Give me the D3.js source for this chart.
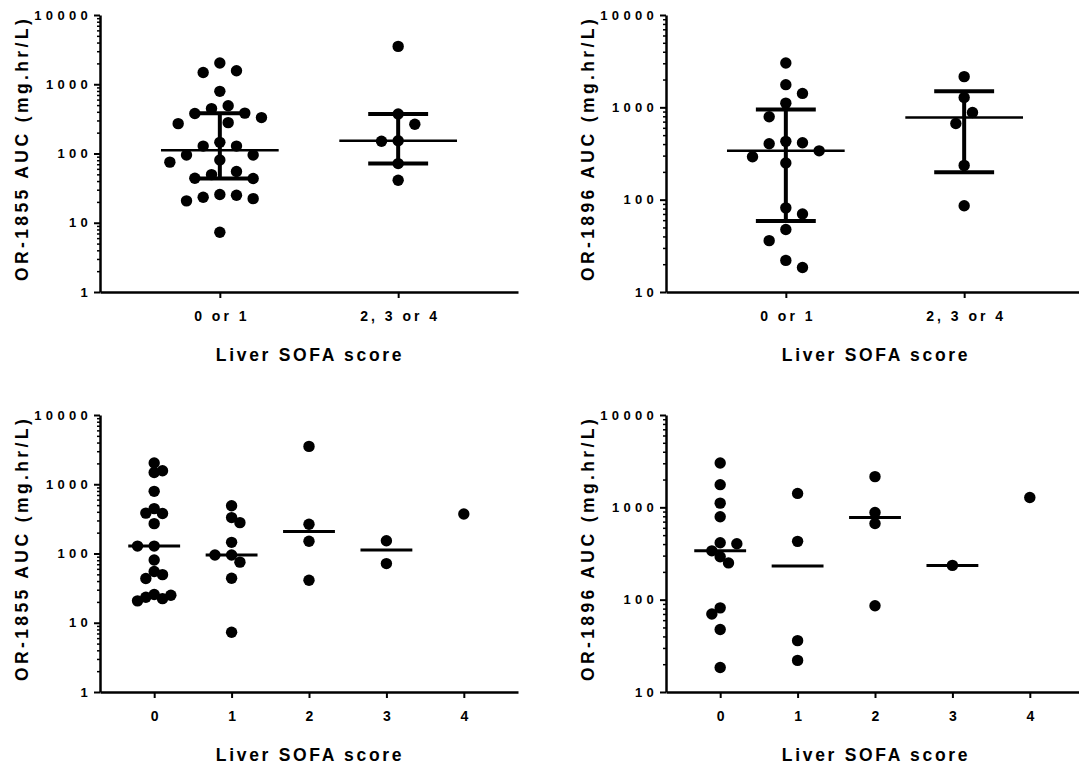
<!DOCTYPE html>
<html>
<head>
<meta charset="utf-8">
<script src="https://cdn.jsdelivr.net/npm/d3@7"></script>
<style>
    body { margin: 0; background: #fff; }
    svg text { font-family: "Liberation Sans", Arial, sans-serif; font-weight: bold; fill: #000; }
</style>
</head>
<body>
<div id="chart"></div>
<script>
// categories
const sofaGroups = ["0 or 1", "2, 3 or 4"];
const sofaScores = ["0", "1", "2", "3", "4"];

// OR-1855 AUC (mg.hr/L) per patient, by liver SOFA score
const or1855Score0 = [2030, 1570, 1480, 790, 445, 378, 383, 270, 128, 128, 80.5, 49.5, 55, 43.5, 25.6, 23.3, 20.7, 22.3, 25.0];
const or1855Score1 = [490, 330, 279, 145, 95, 95, 75, 44, 7.3];
const or1855Score2 = [3520, 265, 150, 41];
const or1855Score3 = [153, 71.5];
const or1855Score4 = [372];

// OR-1896 AUC (mg.hr/L) per patient, by liver SOFA score
const or1896Score0 = [3020, 1760, 1110, 790, 403, 414, 338, 292, 250, 81.5, 70, 47.5, 18.4];
const or1896Score1 = [1415, 428, 36, 22];
const or1896Score2 = [2150, 880, 668, 86];
const or1896Score3 = [235];
const or1896Score4 = [1280];

// y tick labels
const or1855Ticks = [1, 10, 100, 1000, 10000];
const or1896Ticks = [10, 100, 1000, 10000];

// scores where a median bar is shown in the per-score plots
const medianShown = ["0", "1", "2", "3"];

// quantile the GraphPad way: position p*(n+1)
function gpQuantile(values, p) {
    let s = values.slice().sort((a, b) => a - b);
    let n = s.length;
    let pos = p * (n + 1);
    if (pos <= 1) return s[0];
    if (pos >= n) return s[n - 1];
    let lo = Math.floor(pos);
    return s[lo - 1] + (pos - lo) * (s[lo] - s[lo - 1]);
}

// simple beeswarm: greedy placement on a grid of horizontal slots
function swarmOffsets(values, y, step, minDist) {
    let order = values.map((v, i) => i).sort((a, b) => values[b] - values[a]);
    let placed = [];
    let offsets = new Array(values.length).fill(0);
    let balance = 0;
    order.forEach(i => {
        let yi = y(values[i]);
        for (let k = 0; k < 60; k++) {
            let cands = k === 0 ? [0] : (balance > 0 ? [-k, k] : [k, -k]);
            let hit = cands.find(c => placed.every(p => Math.hypot(p.x - c * step, p.y - yi) >= minDist));
            if (hit !== undefined) {
                offsets[i] = hit * step;
                placed.push({x: hit * step, y: yi});
                balance += Math.sign(hit);
                break;
            }
        }
    });
    return offsets;
}

const W = 1079, H = 770;
const svg = d3.select("#chart").append("svg")
    .attr("width", W)
    .attr("height", H);

function drawPanel(cfg) {
    let vis = {};
    vis.left = cfg.left;
    vis.right = cfg.left + 418;
    vis.top = cfg.top;
    vis.bottom = cfg.top + 277;

    vis.x = d3.scalePoint()
        .domain(cfg.groups)
        .range([vis.left, vis.right])
        .padding(cfg.pad);
    vis.y = d3.scaleLog()
        .domain([cfg.ticks[0], cfg.ticks[cfg.ticks.length - 1]])
        .range([vis.bottom, vis.top]);

    let g = svg.append("g");

    // minor log ticks
    let minor = [];
    for (let d = cfg.ticks[0]; d < cfg.ticks[cfg.ticks.length - 1]; d *= 10) {
        for (let m = 2; m <= 9; m++) minor.push(d * m);
    }
    let minorG = g.append("g")
        .attr("transform", "translate(" + vis.left + ",0)")
        .call(d3.axisLeft(vis.y).tickValues(minor).tickSize(3).tickSizeOuter(0).tickFormat(""));
    minorG.select(".domain").remove();
    minorG.selectAll("line").attr("stroke-width", 1.5);

    // y axis
    let yG = g.append("g")
        .attr("transform", "translate(" + vis.left + ",0)")
        .call(d3.axisLeft(vis.y).tickValues(cfg.ticks).tickFormat(d3.format("d"))
            .tickSize(6).tickSizeOuter(0).tickPadding(2));
    yG.select(".domain").attr("stroke-width", 2.5);
    yG.selectAll("line").attr("stroke-width", 2);
    yG.selectAll("text")
        .attr("font-size", 13)
        .style("letter-spacing", "4.3px")
        .attr("font-family", null);

    // x axis
    let xG = g.append("g")
        .attr("transform", "translate(0," + vis.bottom + ")")
        .call(d3.axisBottom(vis.x).tickSize(6).tickSizeOuter(0).tickPadding(13));
    xG.select(".domain").attr("stroke-width", 2.5);
    xG.selectAll("line").attr("stroke-width", 2);
    xG.selectAll("text")
        .attr("font-size", 14)
        .attr("dx", 1.5)
        .style("letter-spacing", "3px")
        .attr("font-family", null);

    // axis titles
    g.append("text")
        .attr("transform", "translate(" + (vis.left - 72.5) + "," + ((vis.top + vis.bottom) / 2 - 5) + ") rotate(-90)")
        .attr("text-anchor", "middle")
        .attr("font-size", 17.5)
        .style("letter-spacing", "3.4px")
        .text(cfg.yTitle);
    g.append("text")
        .attr("x", (vis.left + vis.right) / 2 + 1)
        .attr("y", vis.bottom + 69)
        .attr("text-anchor", "middle")
        .attr("font-size", 17.5)
        .style("letter-spacing", "2.7px")
        .text("Liver SOFA score");

    let step = vis.x.step();

    // summary bars
    cfg.groups.forEach((grp, gi) => {
        let vals = cfg.values[gi];
        let cx = vis.x(grp);
        let med = gpQuantile(vals, 0.5);
        if (cfg.iqr) {
            let q1 = gpQuantile(vals, 0.25), q3 = gpQuantile(vals, 0.75);
            g.append("line")
                .attr("x1", cx).attr("x2", cx)
                .attr("y1", vis.y(q1)).attr("y2", vis.y(q3))
                .attr("stroke", "#000").attr("stroke-width", 4);
            [q1, q3].forEach(q => {
                g.append("line")
                    .attr("x1", cx - step * 0.168).attr("x2", cx + step * 0.168)
                    .attr("y1", vis.y(q)).attr("y2", vis.y(q))
                    .attr("stroke", "#000").attr("stroke-width", 4);
            });
            g.append("line")
                .attr("x1", cx - step * 0.33).attr("x2", cx + step * 0.33)
                .attr("y1", vis.y(med)).attr("y2", vis.y(med))
                .attr("stroke", "#000").attr("stroke-width", 2.5);
        } else if (medianShown.includes(grp)) {
            g.append("line")
                .attr("x1", cx - step * 0.335).attr("x2", cx + step * 0.335)
                .attr("y1", vis.y(med)).attr("y2", vis.y(med))
                .attr("stroke", "#000").attr("stroke-width", 3);
        }
    });

    // dots
    cfg.groups.forEach((grp, gi) => {
        let vals = cfg.values[gi];
        let offs = swarmOffsets(vals, vis.y, 8.33, cfg.minDist);
        g.append("g").selectAll("circle")
            .data(vals)
            .enter().append("circle")
            .attr("cx", (d, i) => vis.x(grp) + offs[i])
            .attr("cy", d => vis.y(d))
            .attr("r", 5.7)
            .attr("fill", "#000");
    });
}

drawPanel({
    left: 100, top: 15, pad: 0.672, groups: sofaGroups, ticks: or1855Ticks, iqr: true, minDist: 16.5,
    yTitle: "OR-1855 AUC (mg.hr/L)",
    values: [or1855Score0.concat(or1855Score1), or1855Score2.concat(or1855Score3, or1855Score4)]
});
drawPanel({
    left: 666, top: 15, pad: 0.672, groups: sofaGroups, ticks: or1896Ticks, iqr: true, minDist: 16.5,
    yTitle: "OR-1896 AUC (mg.hr/L)",
    values: [or1896Score0.concat(or1896Score1), or1896Score2.concat(or1896Score3, or1896Score4)]
});
drawPanel({
    left: 100, top: 415, pad: 0.7, groups: sofaScores, ticks: or1855Ticks, iqr: false, minDist: 8.5,
    yTitle: "OR-1855 AUC (mg.hr/L)",
    values: [or1855Score0, or1855Score1, or1855Score2, or1855Score3, or1855Score4]
});
drawPanel({
    left: 666, top: 415, pad: 0.7, groups: sofaScores, ticks: or1896Ticks, iqr: false, minDist: 8.5,
    yTitle: "OR-1896 AUC (mg.hr/L)",
    values: [or1896Score0, or1896Score1, or1896Score2, or1896Score3, or1896Score4]
});
</script>
</body>
</html>
